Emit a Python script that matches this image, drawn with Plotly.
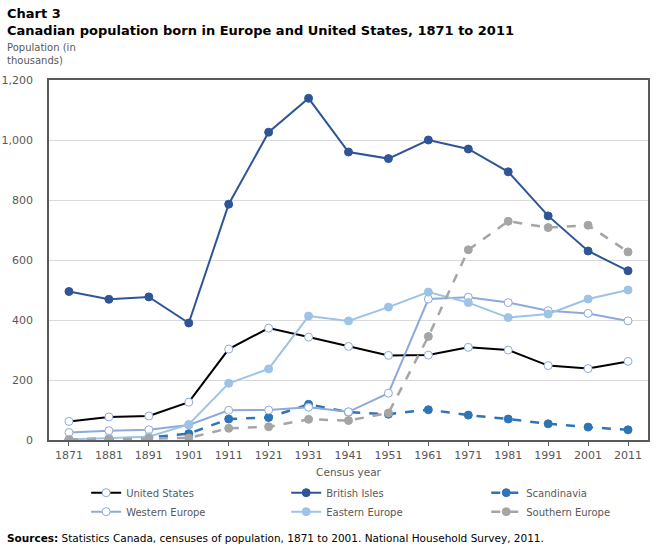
import plotly.graph_objects as go

years = [1871, 1881, 1891, 1901, 1911, 1921, 1931, 1941, 1951, 1961, 1971, 1981, 1991, 2001, 2011]

united_states = [62, 77, 80, 126, 303, 373, 343, 312, 282, 283, 309, 300, 248, 238, 262]
british_isles = [495, 469, 477, 390, 786, 1026, 1139, 960, 938, 1000, 970, 894, 747, 630, 564]
scandinavia = [2, 4, 8, 21, 70, 75, 119, 93, 86, 101, 83, 70, 54, 43, 34]
western_europe = [25, 31, 34, 50, 99, 100, 109, 94, 156, 470, 476, 458, 431, 422, 397]
eastern_europe = [2, 6, 11, 52, 189, 237, 413, 397, 443, 493, 458, 408, 420, 470, 500]
southern_europe = [0, 2, 5, 7, 39, 44, 69, 65, 90, 345, 634, 729, 708, 716, 627]

tick_vals = [0, 200, 400, 600, 800, 1000, 1200]

# name, values, line colour, dash, marker fill, marker edge, legend column
series = [
    ("United States", united_states, "#000000", "solid", "#FFFFFF", "#8EA9DB", "legend"),
    ("British Isles", british_isles, "#2F5597", "solid", "#2F5597", "#2F5597", "legend2"),
    ("Scandinavia", scandinavia, "#2E75B6", "dash", "#2E75B6", "#2E75B6", "legend3"),
    ("Western Europe", western_europe, "#8EA9DB", "solid", "#FFFFFF", "#8EA9DB", "legend"),
    ("Eastern Europe", eastern_europe, "#9DC3E6", "solid", "#9DC3E6", "#9DC3E6", "legend2"),
    ("Southern Europe", southern_europe, "#A5A5A5", "dash", "#A5A5A5", "#A5A5A5", "legend3"),
]

fig = go.Figure()
for name, values, color, dash, fill, edge, leg in series:
    fig.add_trace(go.Scatter(
        x=years,
        y=values,
        name=name,
        legend=leg,
        mode="lines+markers",
        line=dict(color=color, width=2 if dash == "solid" else 2.5, dash=dash),
        marker=dict(size=8, color=fill, line=dict(color=edge, width=1)),
    ))

legend_style = dict(
    orientation="v",
    y=-0.106,
    xanchor="left",
    yanchor="top",
    itemwidth=30,
    font=dict(size=10, color="#595959"),
    bgcolor="rgba(0,0,0,0)",
)

fig.update_layout(
    width=664,
    height=553,
    paper_bgcolor="white",
    plot_bgcolor="white",
    font=dict(family="DejaVu Sans", size=11, color="#595959"),
    margin=dict(l=49, r=16, t=80, b=113),
    showlegend=True,
    legend=dict(x=0.062, **legend_style),
    legend2=dict(x=0.396, **legend_style),
    legend3=dict(x=0.730, **legend_style),
    xaxis=dict(
        tickvals=years,
        range=[1866, 2016],
        showgrid=False,
        showline=True,
        linecolor="#595959",
        linewidth=1.5,
        mirror=True,
        ticks="outside",
        ticklen=4,
        tickcolor="#595959",
        automargin=False,
        title=dict(text="Census year", font=dict(size=10.5, color="#595959"), standoff=8),
    ),
    yaxis=dict(
        range=[0, 1200],
        tickvals=tick_vals,
        tickformat=",",
        showgrid=True,
        gridcolor="#D9D9D9",
        showline=True,
        linecolor="#595959",
        linewidth=1.5,
        mirror=True,
        ticks="outside",
        ticklen=12,
        tickcolor="rgba(0,0,0,0)",
        zeroline=False,
        automargin=False,
    ),
)

fig.add_annotation(
    text="<b>Chart 3</b><br><b>Canadian population born in Europe and United States, 1871 to 2011</b>",
    xref="paper", yref="paper", x=-0.0735, y=1.2125, xanchor="left", yanchor="top",
    showarrow=False, align="left", font=dict(size=13, color="#000000"),
)
fig.add_annotation(
    text="Population (in<br>thousands)",
    xref="paper", yref="paper", x=-0.0735, y=1.11, xanchor="left", yanchor="top",
    showarrow=False, align="left", font=dict(size=10, color="#595959"),
)
fig.add_annotation(
    text="<b>Sources:</b> Statistics Canada, censuses of population, 1871 to 2001. National Household Survey, 2011.",
    xref="paper", yref="paper", x=-0.0735, y=-0.25, xanchor="left", yanchor="top",
    showarrow=False, align="left", font=dict(size=10.5, color="#000000"),
)

# drop the browser's default 8px body margin so the figure sits at the page corner
fig.write_html(
    "out.html",
    config={"displayModeBar": False},
    post_script="document.body.style.margin='0px';",
)
